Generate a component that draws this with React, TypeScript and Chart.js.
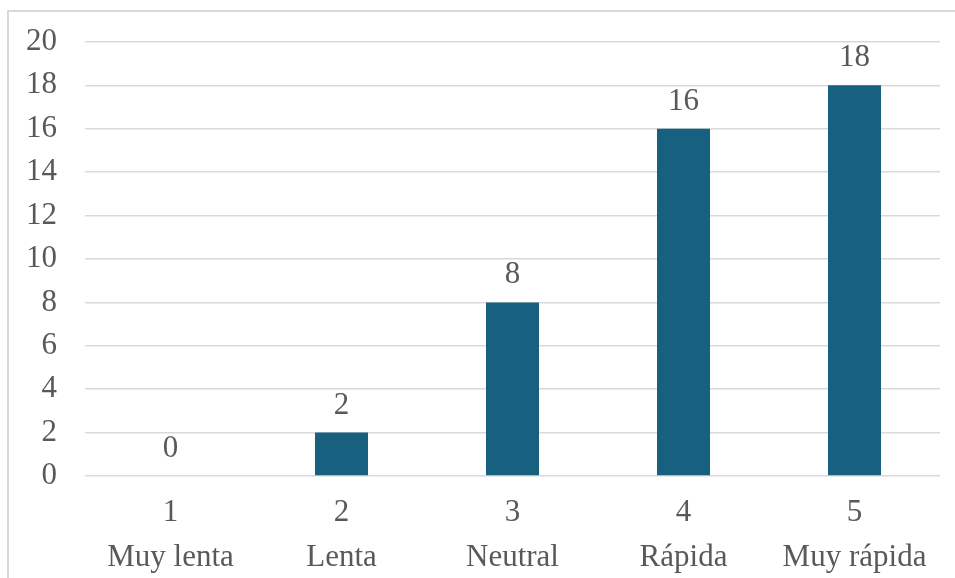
import React, { useEffect, useRef } from "react";
import { Chart, registerables } from "chart.js";

Chart.register(...registerables);

const categories: string[][] = [
  ["1", "Muy lenta"],
  ["2", "Lenta"],
  ["3", "Neutral"],
  ["4", "Rápida"],
  ["5", "Muy rápida"],
];
const values: number[] = [0, 2, 8, 16, 18];
const yMin = 0;
const yMax = 20;
const yStep = 2;

const FONT = '"Liberation Serif", "Times New Roman", serif';
const TEXT_COLOR = "#595959";

const dataLabelPlugin = {
  id: "dataLabels",
  afterDatasetsDraw(chart: any) {
    const ctx = chart.ctx;
    const meta = chart.getDatasetMeta(0);
    ctx.save();
    ctx.font = `31px ${FONT}`;
    ctx.fillStyle = TEXT_COLOR;
    ctx.textAlign = "center";
    ctx.textBaseline = "alphabetic";
    meta.data.forEach((bar: any, i: number) => {
      ctx.fillText(String(values[i]), bar.x, bar.y - 19);
    });
    ctx.restore();
  },
};

export default function App() {
  const canvasRef = useRef<HTMLCanvasElement | null>(null);

  useEffect(() => {
    if (!canvasRef.current) return;
    const chart = new Chart(canvasRef.current, {
      type: "bar",
      data: {
        labels: categories,
        datasets: [
          {
            data: values,
            backgroundColor: "#17607f",
            borderWidth: 0,
            categoryPercentage: 1,
            barPercentage: 0.31,
          },
        ],
      },
      options: {
        animation: false,
        responsive: false,
        maintainAspectRatio: false,
        layout: { padding: { top: 0, right: 15, left: 0, bottom: 0 } },
        plugins: {
          legend: { display: false },
          tooltip: { enabled: false },
        },
        scales: {
          x: {
            grid: { display: false, drawTicks: false },
            border: { display: false },
            ticks: {
              color: TEXT_COLOR,
              font: { family: FONT, size: 31, lineHeight: 1.45 },
              padding: 14,
              maxRotation: 0,
              autoSkip: false,
            },
            afterFit: (scale: any) => {
              scale.height = 102;
            },
          },
          y: {
            min: yMin,
            max: yMax,
            grid: { color: "#d9d9d9", lineWidth: 1.5, drawTicks: false },
            border: { display: false },
            ticks: {
              stepSize: yStep,
              color: TEXT_COLOR,
              font: { family: FONT, size: 31, lineHeight: 0.9 },
              padding: 28,
            },
            afterFit: (scale: any) => {
              scale.width = 85;
            },
          },
        },
      },
      plugins: [dataLabelPlugin],
    });
    return () => chart.destroy();
  }, []);

  return (
    <div
      style={{
        position: "absolute",
        left: 0,
        top: 0,
        width: 955,
        height: 578,
        overflow: "hidden",
        background: "#ffffff",
      }}
    >
      <div
        style={{
          position: "absolute",
          left: 7,
          top: 10,
          width: 1000,
          height: 700,
          borderTop: "2px solid #d9d9d9",
          borderLeft: "2px solid #d9d9d9",
        }}
      />
      <canvas
        ref={canvasRef}
        width={955}
        height={578}
        style={{ position: "absolute", left: 0, top: 0 }}
      />
    </div>
  );
}
